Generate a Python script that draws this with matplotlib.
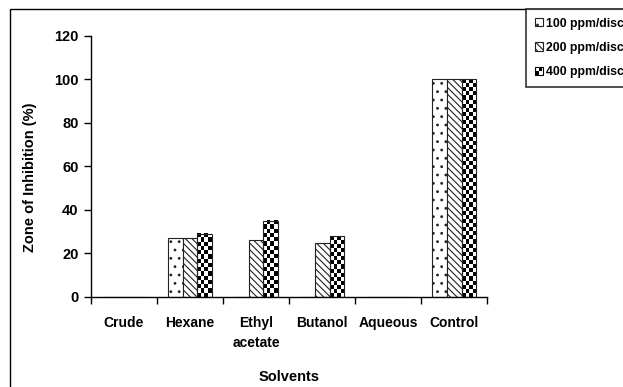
import matplotlib
matplotlib.use("Agg")
import matplotlib.pyplot as plt
from matplotlib.patches import Rectangle
from matplotlib.legend_handler import HandlerBase
import numpy as np

# data
solvents = ["Crude", "Hexane", "Ethyl\nacetate", "Butanol", "Aqueous", "Control"]
series = ["100 ppm/disc", "200 ppm/disc", "400 ppm/disc"]
ppm100 = [0, 27, 0, 0, 0, 100]
ppm200 = [0, 27, 26, 25, 0, 100]
ppm400 = [0, 29, 35, 28, 0, 100]

plt.rcParams['font.family'] = ['Liberation Sans', 'DejaVu Sans']
plt.rcParams['font.weight'] = 'bold'
plt.rcParams['hatch.linewidth'] = 0.8


class CheckerHandler(HandlerBase):
    # small 2x2 checker box for the legend
    def create_artists(self, legend, orig_handle, xdescent, ydescent,
                       width, height, fontsize, trans):
        s = min(width, height)
        x0, y0 = -xdescent, -ydescent + (height - s) / 2
        arts = [Rectangle((x0, y0), s, s, fc='white', ec='black', lw=0.8, transform=trans)]
        h = s / 2
        for dx, dy in [(0, 0), (h, h)]:
            arts.append(Rectangle((x0 + dx, y0 + dy), h, h, fc='black', ec='none', transform=trans))
        return arts


fig = plt.figure(figsize=(6.23, 3.87), dpi=100)
ax = fig.add_axes([0.146, 0.2326, 0.636, 0.6744])

x = np.arange(len(solvents))
w = 0.225
bars100 = ax.bar(x - w, ppm100, w, color='white', edgecolor='#222222', lw=0.8, hatch='..', label=series[0])
bars200 = ax.bar(x, ppm200, w, color='white', edgecolor='#222222', lw=0.8, hatch='\\\\\\\\\\', label=series[1])
bars400 = ax.bar(x + w, ppm400, w, color='white', edgecolor='#222222', lw=0.8, label=series[2])

# checkerboard fill for 400 ppm bars
sq = 1.9  # checker square height in data units
for b in bars400:
    h = b.get_height()
    if h <= 0:
        continue
    nr = max(1, int(round(h / sq)))
    pattern = (np.add.outer(np.arange(nr), np.arange(4)) % 2)
    x0 = b.get_x()
    ax.imshow(pattern[::-1], cmap='gray', extent=(x0, x0 + b.get_width(), 0, h),
              aspect='auto', interpolation='nearest', zorder=b.get_zorder() - 0.1)
    b.set_facecolor('none')

ax.set_xlim(-0.5, len(solvents) - 0.5)
ax.set_ylim(0, 120)
ax.set_yticks(range(0, 121, 20))
ax.set_xticks(x)
ax.set_xticklabels(solvents, fontsize=10, fontweight='bold', linespacing=1.5)
ax.set_xticks(np.arange(-0.5, len(solvents)), minor=True)
ax.tick_params(axis='x', which='major', length=0, pad=14)
ax.tick_params(axis='x', which='minor', length=5, direction='out', width=1)
ax.tick_params(axis='y', length=5, width=1, labelsize=10.5, pad=4)
for lab in ax.get_yticklabels():
    lab.set_fontweight('bold')
for s in ['top', 'right']:
    ax.spines[s].set_visible(False)
for s in ['left', 'bottom']:
    ax.spines[s].set_linewidth(1)

ax.set_ylabel("Zone of Inhibition (%)", fontsize=10.5, fontweight='bold')
ax.yaxis.set_label_coords(-0.135, 0.46)
ax.set_xlabel("Solvents", fontsize=10.5, fontweight='bold', va='center')
ax.xaxis.set_label_coords(0.5, -0.307)

leg = fig.legend(handles=[bars100, bars200, bars400], labels=series,
                 loc='upper left', bbox_to_anchor=(526 / 623, 1 - 9 / 387),
                 fontsize=8.8, frameon=True, fancybox=False, edgecolor='black',
                 handlelength=0.65, handleheight=0.65, handletextpad=0.3,
                 borderpad=0.7, labelspacing=1.0, borderaxespad=0,
                 handler_map={bars400: CheckerHandler()})
leg.get_frame().set_linewidth(1.2)
for t in leg.get_texts():
    t.set_fontweight('bold')

fig.patches.append(Rectangle((10 / 623, -0.1), 1.2, 1 - 9 / 387 + 0.1,
                             transform=fig.transFigure, fill=False,
                             edgecolor='black', lw=1, zorder=-1))

fig.savefig("out.png", dpi=100)
